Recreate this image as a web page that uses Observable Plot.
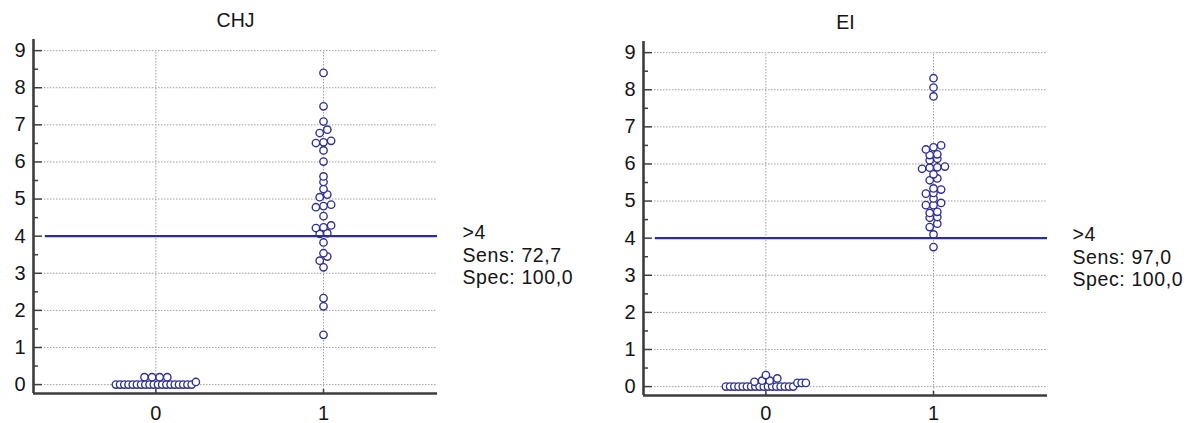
<!DOCTYPE html>
<html>
<head>
<meta charset="utf-8">
<script src="https://cdn.jsdelivr.net/npm/d3@7"></script>
<script src="https://cdn.jsdelivr.net/npm/@observablehq/plot@0.6"></script>
<style>
  html, body { margin: 0; padding: 0; background: #fff; }
  body { width: 1197px; height: 423px; position: relative; overflow: hidden; }
  .panel { position: absolute; top: 0; }
</style>
</head>
<body>
<div id="p1" class="panel" style="left:0px"></div>
<div id="p2" class="panel" style="left:610px"></div>
<script>
// ---------- data ----------
const titles = ["CHJ", "EI"];
const groupTicks = [0, 1];
const yTicks = [0, 1, 2, 3, 4, 5, 6, 7, 8, 9];
const yMinorTicks = [0.5, 1.5, 2.5, 3.5, 4.5, 5.5, 6.5, 7.5, 8.5];
const cutoff = 4;
const cutoffLabels = [">4", ">4"];
const sensLabels = ["72,7", "97,0"];
const specLabels = ["100,0", "100,0"];

// CHJ, group 0 and group 1
const chjGroup0 = [0, 0, 0, 0, 0, 0, 0, 0, 0, 0, 0, 0, 0, 0, 0, 0, 0, 0, 0, 0.07, 0.2, 0.2, 0.2, 0.2];
const chjGroup1 = [8.40, 7.50, 7.09, 6.87, 6.78, 6.57, 6.53, 6.51, 6.31, 6.01, 5.61, 5.46, 5.27, 5.12, 5.05,
                   4.85, 4.81, 4.78, 4.54, 4.29, 4.24, 4.22, 4.08, 4.06, 3.83, 3.54, 3.45, 3.34, 3.16, 2.33, 2.11, 1.34];
// EI, group 0 and group 1
const eiGroup0 = [0, 0, 0, 0, 0, 0, 0, 0, 0, 0, 0, 0, 0, 0, 0, 0, 0, 0.1, 0.1, 0.1, 0.13, 0.16, 0.16, 0.22, 0.31];
const eiGroup1 = [8.31, 8.06, 7.82, 6.50, 6.45, 6.39, 6.26, 6.24, 6.14, 6.10, 5.93, 5.91, 5.90, 5.87, 5.72, 5.61, 5.56,
                  5.34, 5.31, 5.22, 5.20, 5.07, 4.95, 4.89, 4.89, 4.71, 4.68, 4.57, 4.55, 4.39, 4.30, 4.10, 3.76];

// ---------- layout ----------
const X_DOMAIN = [-0.73, 1.68];
const Y_DOMAIN = [-0.24, 9.3];
const ML = 33, PW = 404, PH = 354;
const NAVY = "#2d2f8e";
const AXIS = "#3d3d3d";
const GRID = "#a0a0a0";
const INK = "#141414";
const FONT = "'Liberation Sans', Arial, sans-serif";

// MedCalc-like dot plot: near-equal values form a row, spread side by side around the group
function rows(values, tol) {
  const sorted = values.slice().sort(d3.ascending);
  const out = [];
  let row = [];
  for (const v of sorted) {
    if (row.length && v - row[0] >= tol) { out.push(row); row = []; }
    row.push(v);
  }
  if (row.length) out.push(row);
  return out;
}
function layout(group, values) {
  const pxPerUnit = PW / (X_DOMAIN[1] - X_DOMAIN[0]);
  const pts = [];
  for (const row of rows(values, 0.12)) {
    const n = row.length;
    const s = n > 1 ? Math.min(7.6, 80 / (n - 1)) : 0;
    row.forEach((v, i) => pts.push({group, value: v, x: group + (i - (n - 1) / 2) * s / pxPerUnit}));
  }
  return pts;
}

function panel(k, g0, g1, marginTop, marginRight, xPad) {
  const pts = [...layout(0, g0), ...layout(1, g1)];
  const marginBottom = 423 - marginTop - PH;
  const ann = `${cutoffLabels[k]}\nSens: ${sensLabels[k]}\nSpec: ${specLabels[k]}`;
  const svg = Plot.plot({
    width: ML + PW + marginRight,
    height: 423,
    marginLeft: ML, marginRight, marginTop, marginBottom,
    x: {domain: X_DOMAIN, axis: null},
    y: {domain: Y_DOMAIN, axis: null},
    style: {fontFamily: FONT, fontSize: "20px", color: INK, background: "white", overflow: "visible"},
    marks: [
      // dotted grid
      Plot.ruleY(yTicks, {insetLeft: 11, stroke: GRID, strokeWidth: 1, strokeDasharray: "1.5,1.5"}),
      Plot.ruleX(groupTicks, {insetTop: 13, stroke: GRID, strokeWidth: 1, strokeDasharray: "1.5,1.5"}),
      // inward ticks
      Plot.ruleY(yTicks, {insetRight: PW - 9, stroke: AXIS, strokeWidth: 1.5}),
      Plot.ruleY(yMinorTicks, {insetRight: PW - 5, stroke: AXIS, strokeWidth: 1.5}),
      Plot.ruleX(groupTicks, {insetTop: PH - 4, stroke: AXIS, strokeWidth: 1.5}),
      // axis lines
      Plot.ruleX([X_DOMAIN[0]], {stroke: AXIS, strokeWidth: 2.6}),
      Plot.ruleY([Y_DOMAIN[0]], {stroke: AXIS, strokeWidth: 2.6}),
      // tick labels
      Plot.axisY(yTicks, {anchor: "left", tickSize: 0, tickPadding: 8, label: null, fill: INK, tickFormat: d => `${d}`}),
      Plot.axisX(groupTicks, {anchor: "bottom", tickSize: 0, tickPadding: xPad, label: null, fill: INK, tickFormat: d => `${d}`}),
      // data
      Plot.dot(pts, {x: "x", y: "value", r: 3.7, stroke: NAVY, fill: "white", strokeWidth: 1.35}),
      // cut-off line
      Plot.ruleY([cutoff], {insetLeft: 12, stroke: NAVY, strokeWidth: 2.2}),
      // title
      Plot.text([titles[k]], {text: d => d, frameAnchor: "top", lineAnchor: "top", dy: -26, fill: INK, fontSize: 19.5}),
      // annotation
      Plot.text([ann], {text: d => d, x: X_DOMAIN[1], y: cutoff, dx: 25, dy: -13, textAnchor: "start",
                        lineAnchor: "top", lineHeight: 1.15, fill: INK, fontSize: 19.5, className: "annot"})
    ]
  });
  d3.select(svg).selectAll(".annot text").style("letter-spacing", "0.6px");
  return svg;
}

document.getElementById("p1").appendChild(panel(0, chjGroup0, chjGroup1, 39, 161, 12));
document.getElementById("p2").appendChild(panel(1, eiGroup0, eiGroup1, 41, 150, 10));
</script>
</body>
</html>
